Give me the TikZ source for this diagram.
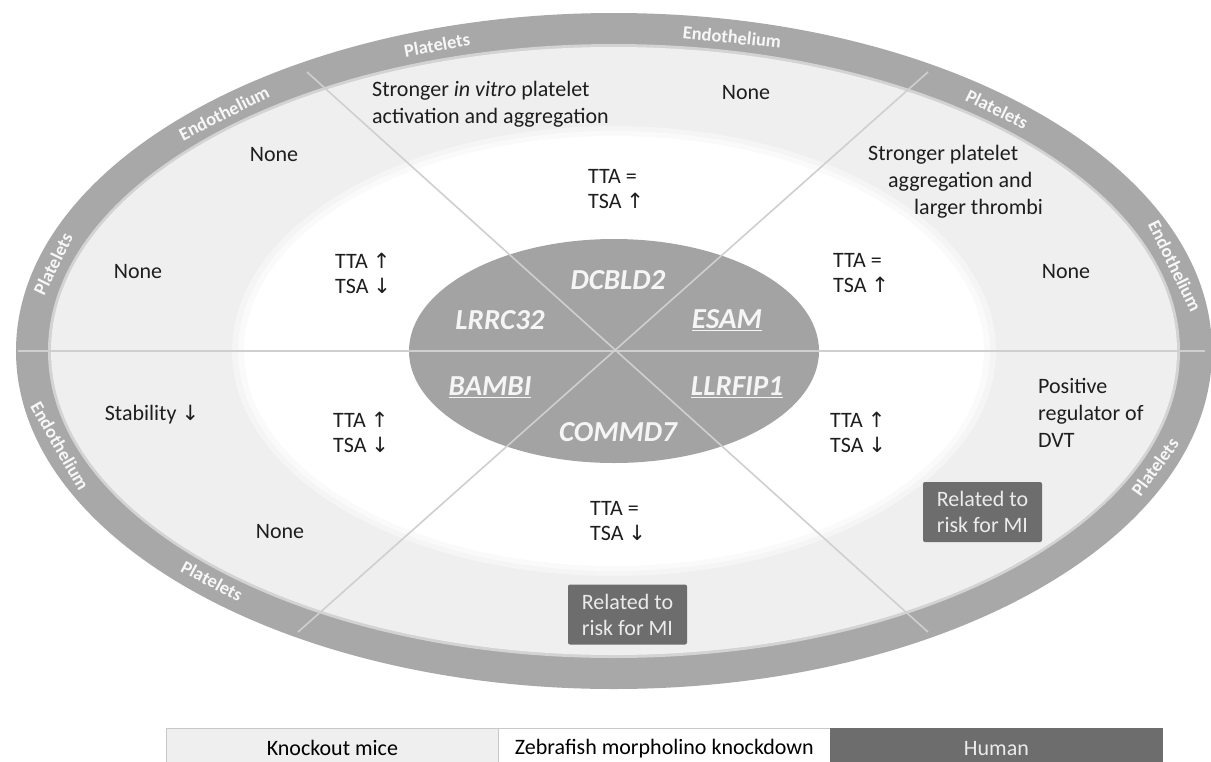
\documentclass[tikz,border=0pt]{standalone}
\usepackage{fontspec}
\setmainfont{Carlito}
\newfontfamily\symfont{DejaVu Sans}
\newcommand{\myup}{{\symfont\fontsize{21}{21}\selectfont ↑}}
\newcommand{\mydown}{{\symfont\fontsize{21}{21}\selectfont ↓}}
\definecolor{ringgray}{HTML}{A8A8A8}
\definecolor{ltgray}{HTML}{EFEFEF}
\definecolor{coregray}{HTML}{A3A3A3}
\definecolor{divline}{HTML}{CFCFCF}
\definecolor{boxgray}{HTML}{6D6D6D}
\definecolor{txtblack}{HTML}{1E1E1E}
\definecolor{legline}{HTML}{C8C8C8}
\begin{document}
\begin{tikzpicture}[x=1pt,y=-1pt,
  divider/.style={draw=divline, line width=1.6pt},
  ringlbl/.style={font=\bfseries\fontsize{18.5}{18.5}\selectfont, text=white!97!black, inner sep=0pt},
  body/.style={font=\fontsize{22}{27}\selectfont, text=txtblack, inner sep=0pt, align=left},
  pair/.style={font=\fontsize{22}{25}\selectfont, text=txtblack, inner sep=0pt, align=left},
  gene/.style={font=\fontsize{29}{29}\selectfont\bfseries\itshape, text=white!96!black, inner sep=0pt},
  mibox/.style={fill=boxgray, text=white!92!black, font=\fontsize{22}{26}\selectfont, align=left,
    minimum width=119, minimum height=60, rounded corners=2pt, inner sep=0pt},
  legcell/.style={draw=legline, line width=0.8pt, minimum width=332, minimum height=40,
    anchor=north west, inner sep=0pt, font=\fontsize{22}{26}\selectfont}
]
\useasboundingbox (0,0) rectangle (1211,761);
\clip (0,0) rectangle (1211,761);
\fill[white] (0,0) rectangle (1211,761);

% ellipses
\coordinate (c) at (614,351);
\fill[ringgray] (c) ellipse [x radius=598, y radius=338];
\fill[ringgray!40!ltgray] (c) ellipse [x radius=566, y radius=307];
\fill[ltgray] (c) ellipse [x radius=563, y radius=304];
\fill[ltgray!65!white] (c) ellipse [x radius=382, y radius=225];
\fill[ltgray!30!white] (c) ellipse [x radius=376, y radius=220];
\fill[white] (c) ellipse [x radius=370, y radius=215];
\fill[coregray] (c) ellipse [x radius=205, y radius=112];

% dividers
\coordinate (hl) at (18,351);
\coordinate (hr) at (1205,351);
\coordinate (ul) at (307,72);
\coordinate (lr) at (928,632);
\coordinate (ur) at (928,72);
\coordinate (ll) at (298,632);
\draw[divider] (hl) -- (hr);
\draw[divider] (ul) -- (lr);
\draw[divider] (ur) -- (ll);

% ring labels
\node[ringlbl, rotate=10]   (rp1) at (437,45)  {Platelets};
\node[ringlbl, rotate=-6]  (re1) at (732,37)  {Endothelium};
\node[ringlbl, rotate=27]  (re2) at (224,113) {Endothelium};
\node[ringlbl, rotate=-26] (rp2) at (997,109) {Platelets};
\node[ringlbl, rotate=64]  (rp3) at (53,264)  {Platelets};
\node[ringlbl, rotate=-64] (re3) at (1175,266) {Endothelium};
\node[ringlbl, rotate=-60] (re4) at (60,446)  {Endothelium};
\node[ringlbl, rotate=-28] (rp4) at (212,581) {Platelets};
\node[ringlbl, rotate=54]  (rp5) at (1155,467) {Platelets};

% gene labels
\node[gene] (g1) at (618,280) {DCBLD2};
\node[gene] (g2) at (500,320) {LRRC32};
\node[gene] (g3) at (727,320) {\underline{ESAM}};
\node[gene] (g4) at (490,387) {\underline{BAMBI}};
\node[gene] (g5) at (737,387) {\underline{LLRFIP1}};
\node[gene] (g6) at (618,432) {COMMD7};

% knockout mice texts
\node[body, anchor=west] (k1) at (372,104) {Stronger \textit{in vitro} platelet\\activation and aggregation};
\node[body] (k2) at (746,93) {None};
\node[body] (k3) at (274,155) {None};
\node[body, anchor=west] (k4) at (868,182) {Stronger platelet\\\hspace*{20pt}aggregation and\\\hspace*{46pt}larger thrombi};
\node[body] (k5) at (138,272) {None};
\node[body] (k6) at (1066,272) {None};
\node[body] (k7) at (152,415) {Stability \mydown};
\node[body, anchor=west] (k8) at (1038,413) {Positive\\regulator of\\DVT};
\node[body] (k9) at (280,532) {None};

% zebrafish texts
\node[pair, anchor=west] (z1) at (588,189) {TTA =\\TSA \myup};
\node[pair, anchor=west] (z2) at (335,273) {TTA \myup\\TSA \mydown};
\node[pair, anchor=west] (z3) at (833,273) {TTA =\\TSA \myup};
\node[pair, anchor=west] (z4) at (333,432) {TTA \myup\\TSA \mydown};
\node[pair, anchor=west] (z5) at (830,432) {TTA \myup\\TSA \mydown};
\node[pair, anchor=west] (z6) at (590,521) {TTA =\\TSA \mydown};

% human boxes
\node[mibox] (h1) at (982.5,512) {Related to\\risk for MI};
\node[mibox] (h2) at (627.5,614.5) {Related to\\risk for MI};

% legend
\node[legcell, fill=ltgray] (l1) at (166,728) {Knockout mice};
\node[legcell, fill=white] (l2) at (498,728) {Zebrafish morpholino knockdown};
\node[legcell, fill=boxgray, draw=boxgray, text=white!92!black] (l3) at (830,728) {Human};
\end{tikzpicture}
\end{document}
